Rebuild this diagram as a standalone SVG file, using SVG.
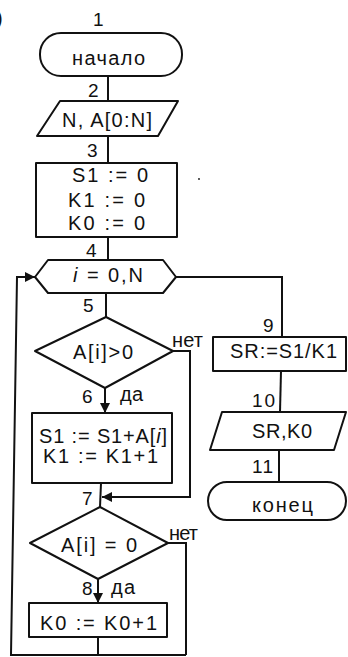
<svg xmlns="http://www.w3.org/2000/svg" width="348" height="657" viewBox="0 0 348 657">
  <defs>
    <style>
      .shape { fill: #fff; stroke: #111; stroke-width: 2; stroke-linejoin: round; }
      .wire { fill: none; stroke: #111; stroke-width: 2; }
      .t { font-family: "Liberation Sans", Arial, sans-serif; font-size: 20px; fill: #111; }
      .n { font-family: "Liberation Sans", Arial, sans-serif; font-size: 19px; fill: #111; }
    </style>
    <marker id="arrow" viewBox="0 0 10 10" refX="10" refY="5" markerWidth="5.5" markerHeight="5" orient="auto" markerUnits="strokeWidth">
      <path d="M0,0 L10,5 L0,10 z" fill="#111"/>
    </marker>
  </defs>

  <rect width="348" height="657" fill="#fff"/>

  <!-- item marker at the top-left edge -->
  <text class="t" x="-4" y="25">)</text>

  <!-- connectors -->
  <g id="connectors">
    <path class="wire" d="M108,76 V101"/>
    <path class="wire" d="M108,136 V163"/>
    <path class="wire" d="M108,237 V260"/>
    <path class="wire" d="M106,293 V317"/>
    <path class="wire" d="M105,388 V413" marker-end="url(#arrow)"/>
    <path class="wire" d="M173,351 H190 V497 H102" marker-end="url(#arrow)"/>
    <path class="wire" d="M101,483 L100,507"/>
    <path class="wire" d="M98,579 V603" marker-end="url(#arrow)"/>
    <path class="wire" d="M168,543 H186 V655"/>
    <path class="wire" d="M98,637 V655"/>
    <path class="wire" d="M186,655 H11 L17,277 H35" marker-end="url(#arrow)"/>
    <path class="wire" d="M176,277 H282 V337"/>
    <path class="wire" d="M281,371 L280,412"/>
    <path class="wire" d="M279,450 V482"/>
  </g>

  <!-- 1: start -->
  <g id="node1">
    <rect class="shape" x="40" y="33" width="142" height="43" rx="21" ry="21"/>
    <text class="t" x="72" y="65" textLength="73" lengthAdjust="spacing">начало</text>
    <text class="n" x="93" y="26">1</text>
  </g>

  <!-- 2: input -->
  <g id="node2">
    <polygon class="shape" points="60,101 178,101 158,136 37,136"/>
    <text class="t" x="62" y="127" textLength="90" lengthAdjust="spacing">N, A[0:N]</text>
    <text class="n" x="88" y="97">2</text>
  </g>

  <!-- 3: init -->
  <g id="node3">
    <rect class="shape" x="36" y="163" width="141" height="74"/>
    <text class="t" x="72" y="182" textLength="76" lengthAdjust="spacing">S1 := 0</text>
    <text class="t" x="68" y="207" textLength="77" lengthAdjust="spacing">K1 := 0</text>
    <text class="t" x="68" y="230" textLength="77" lengthAdjust="spacing">K0 := 0</text>
    <text class="n" x="87" y="157">3</text>
    <circle cx="199" cy="179" r="0.9" fill="#111"/>
  </g>

  <!-- 4: loop -->
  <g id="node4">
    <polygon class="shape" points="35,277 48,260 163,260 176,277 163,293 48,293"/>
    <text class="t" x="73" y="282" textLength="70" lengthAdjust="spacing"><tspan font-style="italic">i</tspan> = 0,N</text>
    <text class="n" x="86" y="257">4</text>
  </g>

  <!-- 5: test A[i]>0 -->
  <g id="node5">
    <polygon class="shape" points="106,317 173,351 105,388 35,351"/>
    <text class="t" x="73" y="359" textLength="60" lengthAdjust="spacing">A[i]&gt;0</text>
    <text class="n" x="83" y="312">5</text>
    <text class="t" x="172" y="347" textLength="31" lengthAdjust="spacing">нет</text>
  </g>

  <!-- 6: accumulate -->
  <g id="node6">
    <rect class="shape" x="32" y="413" width="140" height="70"/>
    <text class="t" x="39" y="443" textLength="128" lengthAdjust="spacing">S1 := S1+A[<tspan font-style="italic">i</tspan>]</text>
    <text class="t" x="43" y="463" textLength="115" lengthAdjust="spacing">K1 := K1+1</text>
    <text class="n" x="82" y="403">6</text>
    <text class="t" x="120" y="401" textLength="23" lengthAdjust="spacing">да</text>
  </g>

  <!-- 7: test A[i] = 0 -->
  <g id="node7">
    <polygon class="shape" points="100,507 168,543 98,579 30,543"/>
    <text class="t" x="61" y="552" textLength="76" lengthAdjust="spacing">A[i] = 0</text>
    <text class="n" x="82" y="505">7</text>
    <text class="t" x="169" y="540" textLength="29" lengthAdjust="spacing">нет</text>
  </g>

  <!-- 8: count zeros -->
  <g id="node8">
    <rect class="shape" x="29" y="603" width="138" height="34"/>
    <text class="t" x="40" y="630" textLength="117" lengthAdjust="spacing">K0 := K0+1</text>
    <text class="n" x="82" y="595">8</text>
    <text class="t" x="111" y="594" textLength="24" lengthAdjust="spacing">да</text>
  </g>

  <!-- 9: average -->
  <g id="node9">
    <rect class="shape" x="213" y="337" width="133" height="34"/>
    <text class="t" x="230" y="358" textLength="107" lengthAdjust="spacing">SR:=S1/K1</text>
    <text class="n" x="263" y="332">9</text>
  </g>

  <!-- 10: output -->
  <g id="node10">
    <polygon class="shape" points="222,412 346,412 334,450 210,450"/>
    <text class="t" x="252" y="438" textLength="60" lengthAdjust="spacing">SR,K0</text>
    <text class="n" x="252" y="407" textLength="23" lengthAdjust="spacing">10</text>
  </g>

  <!-- 11: end -->
  <g id="node11">
    <rect class="shape" x="208" y="482" width="138" height="38" rx="19" ry="19"/>
    <text class="t" x="252" y="512" textLength="61" lengthAdjust="spacing">конец</text>
    <text class="n" x="252" y="473" textLength="21" lengthAdjust="spacing">11</text>
  </g>
</svg>
